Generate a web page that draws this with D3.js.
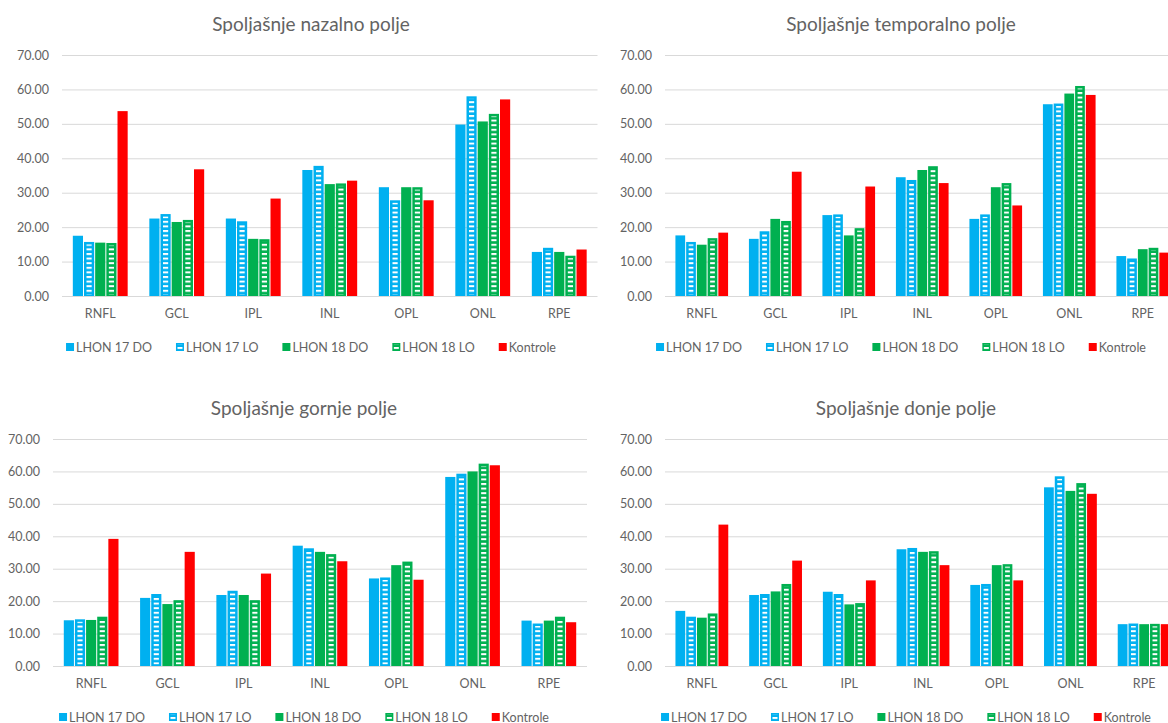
<!DOCTYPE html>
<html>
<head>
<meta charset="utf-8">
<script src="https://cdn.jsdelivr.net/npm/d3@7"></script>
<style>
  body { margin: 0; background: #fff; }
  text { font-family: Lato, "Open Sans", sans-serif; fill: #636363; }
</style>
</head>
<body>
<script>
// categories and series
const categories = ["RNFL", "GCL", "IPL", "INL", "OPL", "ONL", "RPE"]
const seriesNames = ["LHON 17 DO", "LHON 17 LO", "LHON 18 DO", "LHON 18 LO", "Kontrole"]
const yTicks = [0, 10, 20, 30, 40, 50, 60, 70]

// one row per category, one value per series
const nazalno = [
  [17.5, 15.7, 15.5, 15.4, 53.7],
  [22.5, 23.8, 21.5, 22.1, 36.8],
  [22.5, 21.7, 16.6, 16.5, 28.3],
  [36.6, 37.8, 32.5, 32.7, 33.5],
  [31.6, 27.8, 31.6, 31.6, 27.8],
  [49.8, 58.0, 50.7, 52.9, 57.1],
  [12.8, 14.0, 12.8, 11.7, 13.5]
]
const temporalno = [
  [17.6, 15.7, 14.9, 16.8, 18.4],
  [16.6, 18.8, 22.4, 21.8, 36.1],
  [23.5, 23.7, 17.6, 19.7, 31.8],
  [34.5, 33.7, 36.6, 37.7, 32.8],
  [22.4, 23.7, 31.6, 32.8, 26.3],
  [55.7, 55.9, 58.8, 61.0, 58.4],
  [11.6, 10.9, 13.6, 14.0, 12.6]
]
const gornje = [
  [14.1, 14.4, 14.2, 15.2, 39.2],
  [21.0, 22.2, 19.1, 20.3, 35.2],
  [21.9, 23.2, 21.9, 20.3, 28.5],
  [37.1, 36.3, 35.2, 34.5, 32.3],
  [27.0, 27.3, 31.1, 32.2, 26.6],
  [58.3, 59.3, 60.0, 62.4, 61.9],
  [14.0, 13.1, 14.0, 15.2, 13.5]
]
const donje = [
  [17.0, 15.2, 14.9, 16.2, 43.6],
  [21.9, 22.2, 23.0, 25.3, 32.5],
  [22.9, 22.2, 19.0, 19.4, 26.4],
  [36.0, 36.4, 35.2, 35.4, 31.1],
  [25.0, 25.3, 31.1, 31.4, 26.4],
  [55.1, 58.5, 54.0, 56.4, 53.1],
  [12.9, 13.1, 12.9, 13.0, 12.9]
]

const colors = ["#00b0f0", "#00b0f0", "#00b050", "#00b050", "#ff0000"]
const hatched = [false, true, false, true, false]

const panels = [
  {title: "Spoljašnje nazalno polje", data: nazalno, left: 62, right: 597.5, top: 55, bottom: 296, cx: 311},
  {title: "Spoljašnje temporalno polje", data: temporalno, left: 665, right: 1179.5, top: 55, bottom: 296, cx: 901},
  {title: "Spoljašnje gornje polje", data: gornje, left: 53, right: 587, top: 439, bottom: 666, cx: 304},
  {title: "Spoljašnje donje polje", data: donje, left: 665, right: 1181, top: 439, bottom: 666, cx: 906}
]

const svg = d3.select("body").append("svg")
  .attr("width", 1168)
  .attr("height", 723)

// white horizontal dashes for the "LO" bars
svg.append("defs").append("pattern")
  .attr("id", "stripes")
  .attr("patternUnits", "userSpaceOnUse")
  .attr("width", 4)
  .attr("height", 4.6)
  .append("rect")
  .attr("x", 0).attr("y", 0)
  .attr("width", 4).attr("height", 2)
  .attr("fill", "#fff")

function draw_panel(p) {
  let g = svg.append("g")

  let y = d3.scaleLinear().domain([0, 70]).range([p.bottom, p.top])
  let x0 = d3.scaleBand().domain(categories).range([p.left, p.right])
    .paddingInner(0.27).paddingOuter(0.135)
  let x1 = d3.scaleBand().domain(seriesNames).range([0, x0.bandwidth()])

  // grid + y labels
  let yAxis = d3.axisLeft(y)
    .tickValues(yTicks)
    .tickFormat(d3.format(".2f"))
    .tickSize(-(p.right - p.left))
    .tickPadding(13)
  let ya = g.append("g")
    .attr("transform", `translate(${p.left},0)`)
    .call(yAxis)
  ya.select(".domain").remove()
  ya.selectAll("line").attr("stroke", "#d9d9d9")
  ya.selectAll("text").attr("font-size", 12.5).attr("fill", "#636363")

  // category labels
  let xAxis = d3.axisBottom(x0).tickSize(0).tickPadding(13)
  let xa = g.append("g")
    .attr("transform", `translate(0,${p.bottom})`)
    .call(xAxis)
  xa.select(".domain").remove()
  xa.selectAll("text").attr("font-size", 12.5).attr("fill", "#636363")

  // bars
  let groups = g.append("g").selectAll("g")
    .data(p.data).enter()
    .append("g")
    .attr("transform", (d, i) => `translate(${x0(categories[i])},0)`)

  let bars = groups.selectAll("g.bar")
    .data(d => d.map((v, j) => ({v: v, j: j})))
    .enter().append("g").attr("class", "bar")

  bars.append("rect")
    .attr("x", d => x1(seriesNames[d.j]) + 0.5)
    .attr("y", d => y(d.v))
    .attr("width", x1.bandwidth() - 1)
    .attr("height", d => y(0) - y(d.v))
    .attr("fill", d => colors[d.j])

  bars.filter(d => hatched[d.j]).append("rect")
    .attr("x", d => x1(seriesNames[d.j]) + 3)
    .attr("y", d => y(d.v) + 2.5)
    .attr("width", x1.bandwidth() - 6)
    .attr("height", d => Math.max(0, y(0) - y(d.v) - 4))
    .attr("fill", "url(#stripes)")

  // title
  g.append("text")
    .attr("x", p.cx)
    .attr("y", p.top - 24)
    .attr("text-anchor", "middle")
    .attr("font-size", 19)
    .text(p.title)

  // legend, centered under the panel
  let leg = g.append("g")
  let lx = 0
  seriesNames.forEach((name, j) => {
    let item = leg.append("g").attr("transform", `translate(${lx},0)`)
    item.append("rect")
      .attr("x", 0).attr("y", -4)
      .attr("width", 8).attr("height", 8)
      .attr("fill", colors[j])
    if (hatched[j]) {
      item.append("rect")
        .attr("x", 1.5).attr("y", -2.5)
        .attr("width", 5).attr("height", 5)
        .attr("fill", "url(#stripes)")
    }
    let t = item.append("text")
      .attr("x", 10).attr("y", 4.5)
      .attr("font-size", 12.5)
      .text(name)
    lx += 10 + t.node().getComputedTextLength() + 24
  })
  let lw = lx - 24
  leg.attr("transform", `translate(${p.cx - lw / 2},${p.bottom + 51})`)
}

panels.forEach(draw_panel)
</script>
</body>
</html>
